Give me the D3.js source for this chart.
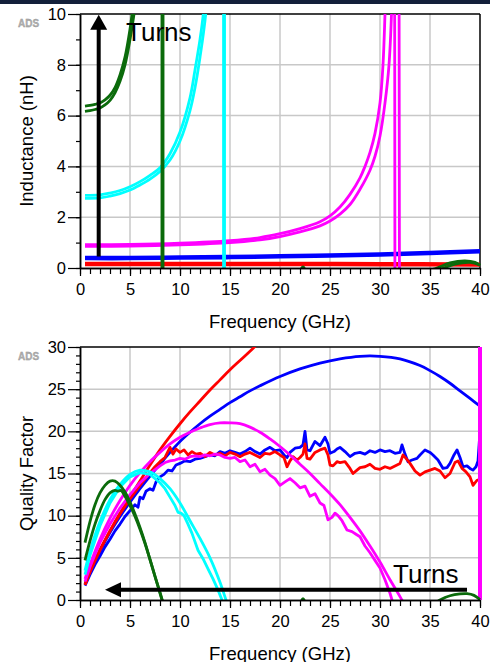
<!DOCTYPE html>
<html>
<head>
<meta charset="utf-8">
<script src="https://cdn.jsdelivr.net/npm/d3@7"></script>
<style>
  body { margin: 0; background: #fff; }
  text { font-family: "Liberation Sans", Arial, sans-serif; }
</style>
</head>
<body>
<svg id="chart" width="490" height="662"></svg>
<script>
// frequency axis (GHz)
var freqDomain = [0, 40];
var freqMajor = [0, 5, 10, 15, 20, 25, 30, 35, 40];
var freqMinor = d3.range(0, 41, 1);

// inductance panel (nH)
var indDomain = [0, 10];
var indMajor = [0, 2, 4, 6, 8, 10];
var indMinor = d3.range(0, 11, 1);

// quality factor panel
var qDomain = [0, 30];
var qMajor = [0, 5, 10, 15, 20, 25, 30];
var qMinor = d3.range(0, 31, 1);

// ---- inductance curves [GHz, nH] ----
var L_red1 = [[0.5,0.19],[10,0.19],[20,0.19],[30,0.18],[40,0.16]];
var L_red2 = [[0.5,0.13],[10,0.13],[20,0.13],[30,0.12],[40,0.11]];
var L_blue1 = [[0.5,0.42],[5,0.42],[10,0.44],[15,0.46],[20,0.49],[25,0.52],[30,0.56],[35,0.62],[40,0.69]];
var L_blue2 = [[0.5,0.36],[5,0.36],[10,0.38],[15,0.4],[20,0.43],[25,0.46],[30,0.5],[35,0.56],[40,0.63]];
var L_mag1 = [[0.5,0.92],[5,0.93],[10,0.98],[15,1.08],[18,1.2],[20,1.35],[22,1.55],[24,1.82],[25,2.05],[26,2.4],[27,2.9],[28,3.55],[28.5,4.0],[29,4.55],[29.5,5.3],[30,6.5],[30.3,8.0],[30.5,10],[30.8,14],[31.1,25],[31.35,60],[31.75,-60],[32.5,-15],[35,-4],[40,-2]];
var L_mag2 = [[0.5,0.85],[5,0.86],[10,0.91],[15,1.0],[18,1.11],[20,1.24],[22,1.42],[24,1.66],[25,1.85],[26,2.12],[27,2.5],[28,3.1],[29,3.85],[29.5,4.4],[30,5.2],[30.5,6.5],[30.9,8.0],[31.15,10],[31.45,15],[31.75,60],[32.25,-60],[33,-15],[35,-5],[40,-2]];
var L_cyan1 = [[0.5,2.86],[2,2.88],[3,2.95],[4,3.05],[5,3.2],[6,3.4],[7,3.65],[8,3.95],[9,4.5],[10,5.35],[11,6.7],[11.5,7.8],[12,9.0],[12.33,10.0],[12.7,12],[13.5,20],[14.2,80],[14.47,400],[14.49,-400],[15,-60],[17,-12],[20,-5],[25,-2.5],[30,-1.8],[35,-1.3],[40,-1]];
var L_cyan2 = [[0.5,2.74],[2,2.76],[3,2.83],[4,2.93],[5,3.07],[6,3.27],[7,3.5],[8,3.8],[9,4.25],[10,5.0],[11,6.2],[11.5,7.1],[12,8.3],[12.57,10.0],[13,12.5],[13.7,20],[14.2,60],[14.39,400],[14.41,-400],[15,-55],[17,-11],[20,-4.8],[25,-2.4],[30,-1.7],[35,-1.2],[40,-0.9]];
var L_green1 = [[0.5,6.37],[1,6.4],[1.5,6.44],[2,6.5],[2.5,6.62],[3,6.8],[3.5,7.1],[4,7.6],[4.5,8.3],[5,9.4],[5.3,10.3],[6,13],[7,20],[8,80],[8.33,400],[8.35,-400],[9,-60],[10,-20],[12,-8],[15,-3],[20,-0.8],[22,-0.1],[22.3,0.04],[22.6,-0.1],[25,-0.8],[30,-0.6],[34,-0.2],[35.7,0],[37,0.2],[38.5,0.28],[39.5,0.22],[40,0.1]];
var L_green2 = [[0.5,6.17],[1,6.2],[1.5,6.24],[2,6.3],[2.5,6.42],[3,6.6],[3.5,6.9],[4,7.35],[4.5,8.0],[5,9.0],[5.5,10.3],[6,12.5],[7,19],[8,75],[8.24,400],[8.26,-400],[9,-55],[10,-18],[12,-7],[15,-2.8],[20,-0.9],[25,-0.9],[30,-0.7],[34,-0.3],[36,-0.05],[37.5,0.15],[39,0.22],[40,0.12]];

// ---- quality factor curves [GHz, Q] ----
var Q_blueMeas = [[0.5,1.7],[1,3.0],[1.5,4.2],[2,5.2],[2.5,6.3],[3,7.2],[3.5,8.2],[4,9.0],[4.5,9.9],[5,10.6],[5.5,11.3],[5.8,11.0],[6,12.2],[6.3,12.0],[6.6,12.9],[7,13.2],[7.3,13.0],[7.6,14.0],[8,14.6],[8.4,14.9],[8.8,15.4],[9.2,15.3],[9.6,16.0],[10,16.2],[10.5,16.5],[11,16.4],[11.5,16.7],[12,16.8],[12.5,17.0],[13,17.2],[13.5,17.1],[14,17.6],[14.5,17.4],[15,17.7],[15.5,17.5],[16,17.3],[16.5,17.6],[17,18.0],[17.5,17.6],[18,17.3],[18.5,17.8],[19,18.1],[19.5,17.7],[20,17.8],[20.4,17.2],[20.7,16.9],[21,17.5],[21.5,18.0],[22,18.1],[22.3,18.4],[22.5,20.0],[22.7,17.8],[23,17.7],[23.5,18.8],[24,18.3],[24.5,19.3],[24.8,18.5],[25,17.4],[25.4,17.6],[25.7,17.9],[26,18.1],[26.5,17.6],[27,17.0],[27.5,17.4],[28,17.5],[28.5,17.3],[29,17.7],[29.5,17.5],[30,17.8],[30.5,17.6],[31,17.7],[31.5,17.4],[32,17.5],[32.2,18.4],[32.5,17.3],[32.8,16.4],[33.2,16.6],[33.7,16.8],[34,17.2],[34.5,17.8],[35,17.5],[35.3,17.2],[35.8,16.6],[36.3,15.6],[36.7,15.7],[37,16.2],[37.4,17.2],[37.7,17.8],[38,16.9],[38.3,15.8],[38.7,15.9],[39,15.6],[39.3,15.4],[39.6,15.8],[39.8,16.5],[40,20.0]];
var Q_blueModel = [[0.5,1.9],[1,3.3],[2,5.8],[3,8.0],[4,9.9],[5,11.6],[6,13.2],[7,14.7],[8,16.1],[9,17.5],[10,18.8],[11,19.9],[12,20.9],[13,21.8],[14,22.6],[15,23.4],[16,24.1],[17,24.8],[18,25.4],[20,26.5],[22,27.4],[24,28.1],[26,28.6],[28,28.9],[30,28.9],[32,28.6],[34,27.8],[35,27.2],[36,26.5],[37,25.7],[38,24.8],[39,23.9],[40,23.0]];
var Q_redMeas = [[0.5,1.8],[1,3.4],[1.5,4.8],[2,6.0],[3,8.2],[4,10.2],[5,12.0],[6,13.6],[7,15.1],[7.5,15.8],[8,16.4],[8.5,16.9],[9,18.1],[9.3,17.3],[9.6,17.9],[10,17.5],[10.4,17.8],[10.8,17.2],[11.2,17.6],[11.6,17.3],[12,17.4],[12.5,17.0],[13,17.5],[13.5,17.2],[14,17.4],[14.5,17.1],[15,17.5],[15.5,17.3],[16,17.0],[16.5,17.3],[17,17.5],[17.5,17.2],[18,16.9],[18.5,17.4],[19,17.3],[19.5,17.6],[20,17.2],[20.4,16.9],[20.7,15.8],[21,16.5],[21.3,17.0],[21.7,16.6],[22,16.9],[22.3,17.3],[22.5,18.5],[22.7,16.8],[23,16.7],[23.5,17.5],[24,17.8],[24.5,18.0],[24.8,17.2],[25,16.0],[25.3,15.9],[25.7,16.4],[26,16.3],[26.5,16.4],[27,15.6],[27.3,15.0],[27.7,15.4],[28,15.7],[28.5,15.8],[29,16.1],[29.5,15.6],[30,15.5],[30.5,15.8],[31,15.6],[31.5,15.9],[32,16.2],[32.3,17.2],[32.6,16.8],[33,16.2],[33.5,15.3],[34,14.8],[34.5,15.2],[35,15.4],[35.5,15.6],[36,15.3],[36.5,14.5],[37,15.0],[37.5,16.3],[37.8,16.5],[38.2,15.6],[38.6,15.2],[39,14.6],[39.3,13.6],[39.7,14.2],[40,14.3]];
var Q_redModel = [[0.5,1.8],[1,3.3],[2,5.9],[3,8.2],[4,10.3],[5,12.2],[6,14.1],[7,16.0],[8,17.8],[9,19.4],[10,20.9],[11,22.3],[12,23.6],[13,24.9],[14,26.1],[15,27.3],[16,28.4],[17,29.5],[18,30.6],[20,32.6]];
var Q_magMeas = [[0.5,2.2],[1,3.9],[1.5,5.4],[2,6.8],[3,9.0],[4,10.9],[5,12.5],[6,13.9],[7,15.0],[8,15.9],[8.5,16.3],[9,16.5],[9.5,16.6],[10,16.8],[10.5,16.7],[11,17.0],[11.5,17.1],[12,17.0],[12.5,17.2],[13,17.1],[13.5,17.3],[14,17.2],[14.5,16.9],[15,16.8],[15.5,16.9],[16,16.4],[16.5,16.6],[17,15.8],[17.5,16.1],[18,15.2],[18.5,15.5],[19,14.8],[19.5,14.4],[20,13.6],[20.5,14.0],[21,14.4],[21.5,13.9],[22,13.3],[22.5,13.5],[23,12.3],[23.5,12.6],[24,11.5],[24.4,11.2],[24.8,9.5],[25.2,9.8],[25.5,10.3],[25.8,10.0],[26.2,9.4],[26.7,8.3],[27.2,8.1],[27.6,7.8],[28,7.5],[28.5,6.4],[29,5.6],[29.5,4.7],[30,3.8],[30.5,2.4],[31,0.8],[31.2,0],[31.6,-1.2],[33,-5]];
var Q_magModel = [[0.5,2.5],[1,4.2],[2,7.2],[3,9.7],[4,11.8],[5,13.6],[6,15.1],[7,16.4],[8,17.5],[9,18.5],[10,19.3],[11,19.9],[12,20.4],[13,20.8],[14,21.0],[15,21.0],[16,20.9],[17,20.5],[18,19.9],[19,19.1],[20,18.2],[21,17.2],[22,16.1],[23,15.0],[24,13.8],[25,12.6],[26,11.3],[27,9.8],[28,8.2],[29,6.4],[30,4.5],[31,2.4],[32,0.4],[33,-1.8],[35,-6.5],[37,-12],[39,-18],[40,-22]];
// the magenta model jumps off-scale at the last sample
var Q_magJump = [[40,-22],[40,60]];
var Q_cyanMeas = [[0.5,3.0],[1,5.3],[2,8.8],[3,11.5],[4,13.4],[5,14.6],[6,15.1],[7,14.9],[8,13.9],[8.5,13.2],[9,12.2],[9.5,11.2],[9.8,10.4],[10.1,10.3],[10.4,10.0],[10.8,9.0],[11.2,7.9],[11.8,5.9],[12.3,4.9],[12.8,3.7],[13.3,2.5],[13.8,1.2],[14.2,0],[15,-2],[17,-7]];
var Q_cyanModel = [[0.5,3.5],[1,5.8],[2,9.3],[3,11.9],[4,13.7],[5,14.9],[6,15.4],[7,15.2],[8,14.4],[9,13.2],[10,11.5],[11,9.4],[12,7.3],[13,5.0],[14,2.1],[14.6,0],[15,-1.4],[17,-7]];
var Q_green1 = [[0.5,6.8],[1,9.3],[1.5,11.3],[2,12.7],[2.5,13.6],[3,14.1],[3.5,14.1],[4,13.6],[4.5,12.8],[5,11.6],[5.5,10.2],[6,8.6],[6.5,6.8],[7,4.8],[7.5,2.8],[8,0.8],[8.3,-0.4],[9,-3],[11,-8],[14,-9],[18,-5],[21,-1.5],[22,-0.4],[22.3,0.15],[22.6,-0.4],[24,-2],[28,-3.5],[32,-3],[34.5,-1.2],[36,0],[37,0.5],[38,0.72],[38.7,0.75],[39.4,0.55],[40,0.05]];
var Q_green2 = [[0.5,4.7],[1,7.0],[1.5,9.0],[2,10.6],[2.5,11.9],[3,12.7],[3.5,13.0],[3.8,12.9],[4.1,13.0],[4.5,12.3],[5,11.2],[5.5,9.9],[6,8.4],[6.5,6.7],[7,4.8],[7.5,2.8],[8,0.9],[8.3,-0.3],[9,-3],[12,-8],[16,-7],[20,-4],[25,-3],[30,-3],[35,-2],[40,-1]];

// "Turns" annotations (data coordinates)
var indArrow = { f: 1.87, from: 0.45, to: 9.97 };
var indLabel = { f: 4.6, v: 8.95, text: "Turns" };
var qArrow = { q: 1.22, from: 38.7, to: 2.5 };
var qLabel = { f: 31.3, v: 2.0, text: "Turns" };

var GREEN = "#0b6b0b", CYAN = "#00ffff", MAGENTA = "#ff00ff", BLUE = "#0000ff", RED = "#ff0000";

var svg = d3.select("#chart");
svg.append("rect").attr("x", 0).attr("y", 0).attr("width", 490).attr("height", 4).attr("fill", "#13203a");

var x = d3.scaleLinear().domain(freqDomain).range([80, 480]);

var panel = (id, top, bottom, domain, major, minor, title, series) => {
  var y = d3.scaleLinear().domain(domain).range([bottom, top]);
  var g = svg.append("g");

  // grid
  g.selectAll(".vg").data(freqMajor.slice(1, -1)).join("line")
    .attr("x1", d => x(d)).attr("x2", d => x(d)).attr("y1", top).attr("y2", bottom)
    .attr("stroke", "#c8c8c8").attr("stroke-width", 1.5);
  g.selectAll(".hg").data(major.slice(1, -1)).join("line")
    .attr("x1", 80).attr("x2", 480).attr("y1", d => y(d)).attr("y2", d => y(d))
    .attr("stroke", "#c8c8c8").attr("stroke-width", 1.5);

  // frame top/right (curves may paint over it, as in ADS)
  g.append("line").attr("x1", 80).attr("x2", 480).attr("y1", top).attr("y2", top).attr("stroke", "#000").attr("stroke-width", 1.5);
  g.append("line").attr("x1", 480).attr("x2", 480).attr("y1", top).attr("y2", bottom).attr("stroke", "#000").attr("stroke-width", 1.5);

  // curves, clipped to the plot area
  svg.append("clipPath").attr("id", id).append("rect")
    .attr("x", 80).attr("y", top).attr("width", 403).attr("height", bottom - top);
  var plot = g.append("g").attr("clip-path", "url(#" + id + ")");
  series.forEach(s => {
    var line = d3.line()
      .x(d => x(d[0]))
      .y(d => y(d[1]))
      .curve(s.jagged ? d3.curveLinear : d3.curveCatmullRom.alpha(0.5));
    plot.append("path").datum(s.data)
      .attr("fill", "none")
      .attr("stroke", s.color)
      .attr("stroke-width", s.width || 2.8)
      .attr("stroke-linejoin", "round")
      .attr("d", line);
  });

  // axes
  var ax = g.append("g").attr("transform", "translate(80,0)");
  ax.call(d3.axisLeft(y).tickValues(minor).tickSize(4).tickFormat("").tickSizeOuter(0));
  ax.append("g").call(d3.axisLeft(y).tickValues(major).tickSize(12).tickPadding(2).tickSizeOuter(0));
  var bx = g.append("g").attr("transform", "translate(0," + bottom + ")");
  bx.call(d3.axisBottom(x).tickValues(freqMinor).tickSize(6).tickFormat("").tickSizeOuter(0));
  bx.append("g").call(d3.axisBottom(x).tickValues(freqMajor).tickSize(8).tickPadding(7).tickSizeOuter(0));
  g.selectAll(".domain").attr("stroke", "#000").attr("stroke-width", 1.5);
  g.selectAll(".tick line").attr("stroke", "#000").attr("stroke-width", 1.2);
  g.selectAll(".tick text").attr("font-size", 16.5).attr("fill", "#000")
    .attr("font-family", "'Liberation Sans', Arial, sans-serif");

  // titles
  g.append("text").attr("x", 280).attr("y", bottom + 60).attr("text-anchor", "middle")
    .attr("font-size", 18.5).text("Frequency (GHz)");
  g.append("text").attr("transform", "translate(33," + ((top + bottom) / 2) + ") rotate(-90)")
    .attr("text-anchor", "middle").attr("font-size", 18.5).text(title);
  g.append("text").attr("x", 18).attr("y", top + 13).attr("font-size", 10).attr("font-weight", "bold")
    .attr("fill", "#b0b0b0").attr("stroke", "#909090").attr("stroke-width", 0.3).text("ADS");
  return { g: g, y: y };
};

var p1 = panel("clipL", 14, 268, indDomain, indMajor, indMinor, "Inductance (nH)", [
  { data: L_red1, color: RED, width: 3 },
  { data: L_red2, color: RED, width: 3 },
  { data: L_blue1, color: BLUE, width: 3 },
  { data: L_blue2, color: BLUE, width: 3 },
  { data: L_mag1, color: MAGENTA },
  { data: L_mag2, color: MAGENTA },
  { data: L_cyan1, color: CYAN },
  { data: L_cyan2, color: CYAN },
  { data: L_green1, color: GREEN },
  { data: L_green2, color: GREEN }
]);

var p2 = panel("clipQ", 347, 600, qDomain, qMajor, qMinor, "Quality Factor", [
  { data: Q_blueMeas, color: BLUE, jagged: true },
  { data: Q_blueModel, color: BLUE },
  { data: Q_redMeas, color: RED, jagged: true },
  { data: Q_redModel, color: RED },
  { data: Q_magMeas, color: MAGENTA, jagged: true },
  { data: Q_magModel, color: MAGENTA },
  { data: Q_magJump, color: MAGENTA, width: 4, jagged: true },
  { data: Q_cyanMeas, color: CYAN, jagged: true },
  { data: Q_cyanModel, color: CYAN },
  { data: Q_green1, color: GREEN },
  { data: Q_green2, color: GREEN }
]);

// vertical "Turns" arrow in the inductance panel
var ay = p1.y;
var ax0 = x(indArrow.f), tipY = ay(indArrow.to);
p1.g.append("line").attr("x1", ax0).attr("x2", ax0)
  .attr("y1", ay(indArrow.from)).attr("y2", tipY + 12)
  .attr("stroke", "#000").attr("stroke-width", 4);
p1.g.append("path")
  .attr("d", "M" + ax0 + "," + tipY + "L" + (ax0 + 8.5) + "," + (tipY + 15) + "L" + (ax0 - 8.5) + "," + (tipY + 15) + "Z")
  .attr("fill", "#000");
p1.g.append("text").attr("x", x(indLabel.f)).attr("y", ay(indLabel.v))
  .attr("font-family", "'Noto Sans', 'Open Sans', sans-serif").attr("font-size", 26).text(indLabel.text);

// horizontal "Turns" arrow in the Q panel
var qy = p2.y;
var ay1 = qy(qArrow.q), tipX = x(qArrow.to);
p2.g.append("line").attr("x1", x(qArrow.from)).attr("x2", tipX + 12)
  .attr("y1", ay1).attr("y2", ay1)
  .attr("stroke", "#000").attr("stroke-width", 4);
p2.g.append("path")
  .attr("d", "M" + tipX + "," + ay1 + "L" + (tipX + 16) + "," + (ay1 - 7.5) + "L" + (tipX + 16) + "," + (ay1 + 7.5) + "Z")
  .attr("fill", "#000");
p2.g.append("text").attr("x", x(qLabel.f)).attr("y", qy(qLabel.v))
  .attr("font-family", "'Noto Sans', 'Open Sans', sans-serif").attr("font-size", 26).text(qLabel.text);
</script>
</body>
</html>
